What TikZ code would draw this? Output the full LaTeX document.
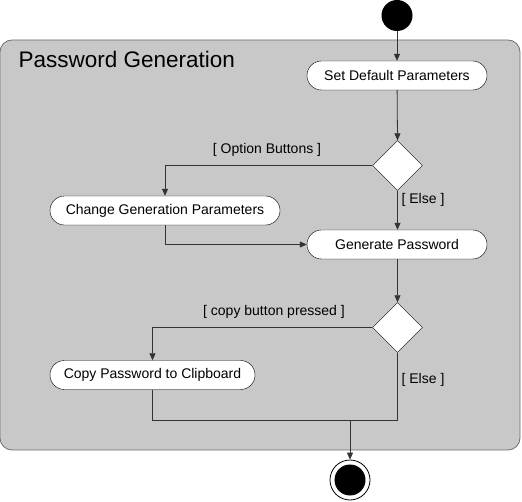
\documentclass[tikz,border=0pt]{standalone}
\usepackage{fontspec}
\setmainfont{Liberation Sans}
\usetikzlibrary{shapes.geometric,arrows.meta,positioning}
\definecolor{panel}{HTML}{C8C8C8}
\definecolor{panelborder}{HTML}{707070}
\definecolor{linec}{HTML}{333333}
\begin{document}
\begin{tikzpicture}[x=1pt,y=-1pt,
  action/.style={draw=black,fill=white,rounded corners=14.5pt,minimum height=29pt,inner sep=0pt,font=\fontsize{14}{16}\selectfont},
  decision/.style={draw=black,fill=white,diamond,minimum width=50pt,minimum height=50pt,inner sep=0pt,aspect=1},
  flow/.style={draw=linec,line width=0.8pt,-{Triangle[length=7pt,width=6pt]}},
  plain/.style={draw=linec,line width=0.8pt},
  guard/.style={font=\fontsize{14}{16}\selectfont,text=black}
]
\useasboundingbox (0,0) rectangle (522,502);
% container
\node[draw=panelborder,fill=panel,rounded corners=12pt,line width=0.8pt,minimum width=520pt,minimum height=410pt,inner sep=0pt] (panel) at (260,245) {};
\node[anchor=base west,font=\fontsize{22.5}{27}\selectfont] (title) at (15,67.5) {Password Generation};
% nodes
\node[fill=black,circle,minimum size=31pt,inner sep=0pt] (start) at (397,15.5) {};
\node[action,minimum width=180pt] (setdef) at (397,75.5) {Set Default Parameters};
\node[decision] (d1) at (397.5,165.5) {};
\node[action,minimum width=230pt] (change) at (165,210.5) {Change Generation Parameters};
\node[action,minimum width=180pt] (gen) at (397,244.5) {Generate Password};
\node[decision] (d2) at (397.5,327.5) {};
\node[action,minimum width=205pt] (copy) at (152.5,375) {Copy Password to Clipboard};
\node[draw=black,line width=0.8pt,fill=white,circle,minimum size=40pt,inner sep=0pt] (final) at (350,480) {};
\node[fill=black,circle,minimum size=31pt,inner sep=0pt] (finalin) at (final) {};
\coordinate (join) at (350,420);
% guards
\node[guard] (g1) at (267,150) {[ Option Buttons ]};
\node[guard] (g2) at (423,200) {[ Else ]};
\node[guard] (g3) at (274,312) {[ copy button pressed ]};
\node[guard] (g4) at (423,380) {[ Else ]};
% connectors
\draw[flow] (start) -- (setdef);
\draw[flow] (setdef) -- (d1.north);
\draw[flow] (d1.west) -| (change.north);
\draw[flow] (d1.south) -- (gen.north -| d1.south);
\draw[flow] (change.south) |- (gen.west);
\draw[flow] (gen.south -| d2.north) -- (d2.north);
\draw[flow] (d2.west) -| (copy.north);
\draw[plain] (copy.south) |- (join);
\draw[plain] (d2.south) |- (join);
\draw[flow] (join) -- (final);
\end{tikzpicture}
\end{document}
